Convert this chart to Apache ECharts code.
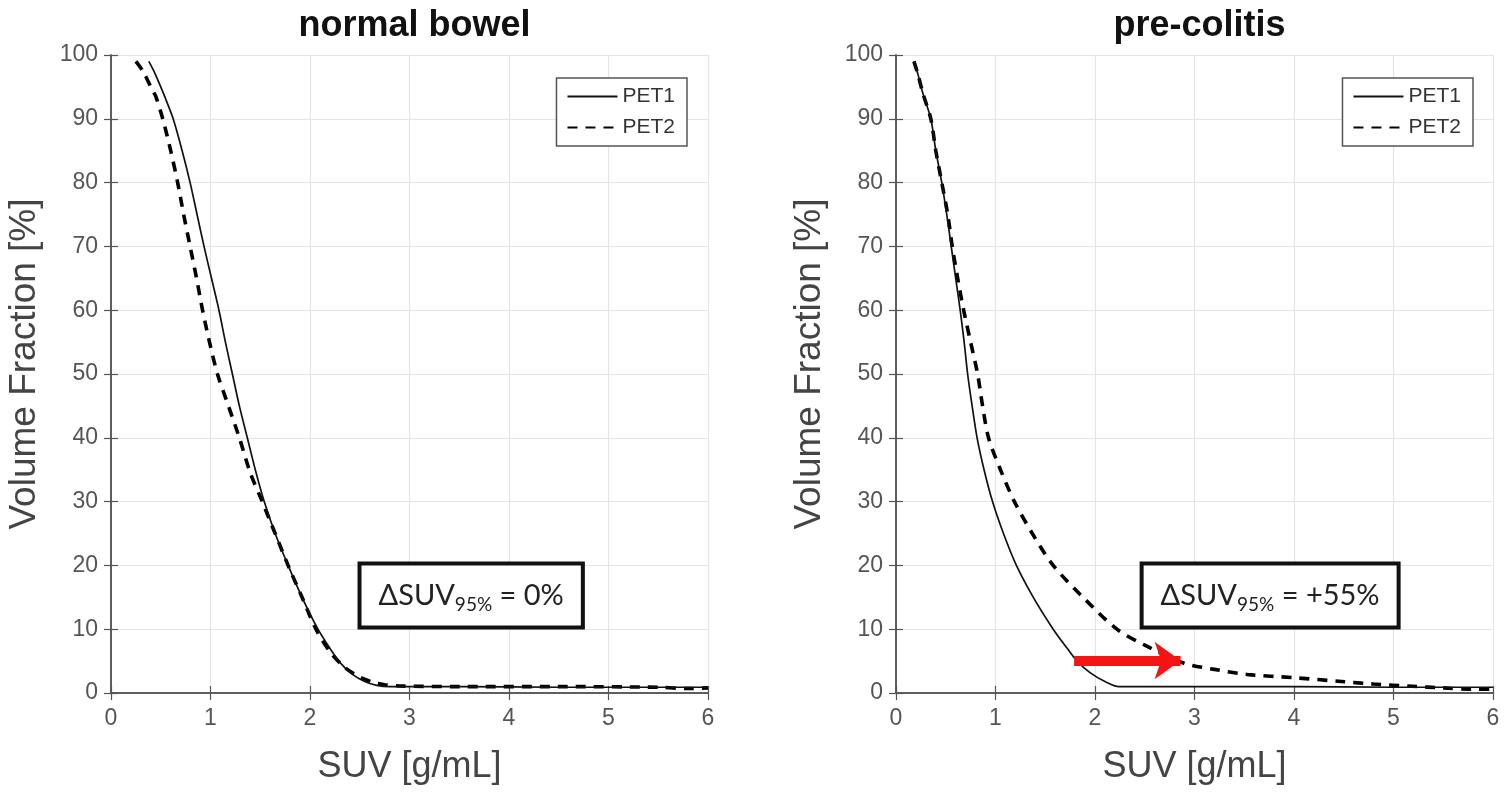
<!DOCTYPE html>
<html>
<head>
<meta charset="utf-8">
<script src="https://cdn.jsdelivr.net/npm/echarts@6/dist/echarts.min.js"></script>
<style>
html,body{margin:0;padding:0;background:#fff;}
#chart{width:1511px;height:797px;}
</style>
</head>
<body>
<div id="chart"></div>
<script>
// ---- data (SUV [g/mL], Volume Fraction [%]) ----
const xTicks = [0, 1, 2, 3, 4, 5, 6];
const yTicks = [0, 10, 20, 30, 40, 50, 60, 70, 80, 90, 100];
const panelTitles = ['normal bowel', 'pre-colitis'];
const seriesNames = ['PET1', 'PET2'];

const normalPET1 = [[0.38,99],[0.43,97.5],[0.50,95],[0.565,92.5],[0.625,90],[0.715,85],[0.795,80],[0.865,75],[0.935,70],[1.01,65],[1.085,60],[1.15,55],[1.22,50],[1.29,45],[1.37,40],[1.45,35],[1.54,30],[1.65,25],[1.78,20],[1.92,15],[2.08,10],[2.2,7],[2.3,4.8],[2.42,3],[2.55,1.8],[2.67,1.2],[2.8,1.0],[3.5,1.0],[4.5,0.9],[5.5,0.9],[6,0.9]];
const normalPET2 = [[0.25,99],[0.32,97.5],[0.40,95],[0.45,93.5],[0.52,90],[0.60,85],[0.67,80],[0.73,75],[0.795,70],[0.86,65],[0.92,60],[0.99,55],[1.07,50],[1.18,45],[1.29,40],[1.40,34.5],[1.52,30],[1.65,25],[1.78,20],[1.92,15],[2.06,10],[2.2,6.5],[2.35,4],[2.5,2.5],[2.65,1.6],[2.75,1.3],[2.9,1.1],[3.5,1.0],[4.5,1.0],[5.5,0.9],[5.8,0.7],[6,0.8]];
const colitisPET1 = [[0.18,99],[0.22,97],[0.27,94],[0.35,90],[0.40,85],[0.46,80],[0.51,75],[0.555,70],[0.60,65],[0.645,60],[0.685,55],[0.72,50],[0.765,45],[0.815,40],[0.885,35],[0.97,30],[1.08,25],[1.21,20],[1.38,15],[1.58,10],[1.72,7],[1.82,5],[1.95,3.2],[2.1,1.8],[2.24,1.0],[3,1.0],[4,1.0],[5,0.9],[6,0.9]];
const colitisPET2 = [[0.18,99],[0.22,97],[0.27,94],[0.35,90],[0.40,85],[0.46,80],[0.52,75],[0.565,70],[0.62,65],[0.68,60],[0.75,55],[0.82,50],[0.87,45],[0.93,40],[1.05,35],[1.19,30],[1.37,25],[1.58,20],[1.88,15],[2.22,10],[2.5,7.5],[2.89,4.7],[3.2,3.7],[3.53,2.9],[4.0,2.4],[4.48,1.8],[4.8,1.4],[5.19,1.05],[5.5,0.8],[5.79,0.6],[6,0.6]];

const annotNormal = {pos: [3.62, 15.3], value: '0%'};
const annotColitis = {pos: [3.76, 15.3], value: '+55%'};
const arrowFrom = [1.79, 5.1];
const arrowTo = [2.86, 5.1];

// ---- styling ----
const frameColor = '#555';
const tickColor = '#555';
const gridColor = '#e4e4e4';
const FONT = '"Liberation Sans", Arial, sans-serif';

const chart = echarts.init(document.getElementById('chart'), null, {renderer: 'canvas'});

const gridsPx = [
  {left: 111, top: 55, width: 597, height: 638},
  {left: 896, top: 55, width: 597, height: 638}
];

function xAxisPair(gi) {
  const base = {
    type: 'value', gridIndex: gi, min: xTicks[0], max: xTicks[xTicks.length - 1], interval: 1,
    axisLine: {show: true, lineStyle: {color: frameColor, width: 1.5}},
    axisTick: {show: true, inside: true, length: 7, lineStyle: {color: frameColor, width: 1.2}},
  };
  return [
    Object.assign({}, base, {
      position: 'bottom',
      axisLabel: {show: true, color: tickColor, fontSize: 23, fontFamily: FONT, margin: 14},
      splitLine: {show: true, lineStyle: {color: gridColor, width: 1.2}},
      name: 'SUV [g/mL]', nameLocation: 'middle', nameGap: 56,
      nameTextStyle: {color: '#444', fontSize: 36, fontFamily: FONT}
    }),
    Object.assign({}, base, {
      position: 'top', axisLabel: {show: false}, splitLine: {show: false}
    })
  ];
}
function yAxisPair(gi) {
  const base = {
    type: 'value', gridIndex: gi, min: yTicks[0], max: yTicks[yTicks.length - 1], interval: 10,
    axisLine: {show: true, lineStyle: {color: frameColor, width: 1.5}},
    axisTick: {show: true, inside: true, length: 7, lineStyle: {color: frameColor, width: 1.2}},
  };
  return [
    Object.assign({}, base, {
      position: 'left',
      axisLabel: {show: true, color: tickColor, fontSize: 23, fontFamily: FONT, margin: 13},
      splitLine: {show: true, lineStyle: {color: gridColor, width: 1.2}},
      name: 'Volume Fraction [%]', nameLocation: 'middle', nameGap: 68,
      nameTextStyle: {color: '#444', fontSize: 37, fontFamily: FONT, padding: [0, 0, 0, 20]}
    }),
    Object.assign({}, base, {
      position: 'right', axisLabel: {show: false}, splitLine: {show: false}
    })
  ];
}

function annotation(a) {
  return {
    silent: true,
    symbol: 'rect', symbolSize: 1,
    itemStyle: {color: 'rgba(0,0,0,0)'},
    data: [{
      coord: a.pos,
      label: {
        show: true, position: 'inside',
        formatter: '{a|ΔSUV}{b|95%}{a| = ' + a.value + '}',
        backgroundColor: '#fff', borderColor: '#111', borderWidth: 4,
        padding: [11, 17, 11, 17],
        rich: {
          a: {fontSize: 29, lineHeight: 38, fontFamily: 'Lato, "Open Sans", sans-serif', color: '#222'},
          b: {fontSize: 19, lineHeight: 19, verticalAlign: 'bottom', fontFamily: 'Lato, "Open Sans", sans-serif', color: '#222'}
        }
      }
    }]
  };
}

function lineSeries(name, data, gi, dashed, extra) {
  return Object.assign({
    type: 'line', name: name, data: data,
    xAxisIndex: gi * 2, yAxisIndex: gi * 2,
    symbol: 'none', showSymbol: false, smooth: 0.3,
    lineStyle: dashed ? {color: '#000', width: 3.6, type: [10, 8]} : {color: '#111', width: 1.7, type: 'solid'},
    itemStyle: {color: '#000'},
    z: dashed ? 3 : 4
  }, extra || {});
}

const xAxes = xAxisPair(0).concat(xAxisPair(1));
const yAxes = yAxisPair(0).concat(yAxisPair(1));

const option = {
  backgroundColor: '#fff',
  animation: false,
  title: panelTitles.map((t, i) => ({
    text: t,
    left: gridsPx[i].left + gridsPx[i].width / 2,
    textAlign: 'center',
    top: 3,
    textStyle: {fontSize: 36, fontWeight: 'bold', color: '#111', fontFamily: FONT}
  })),
  legend: [0, 1].map(i => ({
    data: seriesNames,
    orient: 'vertical',
    right: i === 0 ? 1511 - 687 : 1511 - 1473,
    top: 78,
    itemWidth: 50, itemHeight: 16, itemGap: 10,
    padding: [8, 12, 8, 10],
    borderColor: '#555', borderWidth: 1.5, backgroundColor: '#fff',
    textStyle: {fontSize: 21, color: '#333', fontFamily: FONT},
    itemStyle: {color: 'rgba(0,0,0,0)', borderColor: 'rgba(0,0,0,0)', borderWidth: 0},
    selectedMode: false
  })),
  grid: gridsPx,
  xAxis: xAxes,
  yAxis: yAxes,
  series: [
    lineSeries(seriesNames[0], normalPET1, 0, false),
    lineSeries(seriesNames[1], normalPET2, 0, true, {markPoint: annotation(annotNormal)}),
    lineSeries(seriesNames[0], colitisPET1, 1, false, {
      markLine: {
        silent: true,
        symbol: ['none', 'arrow'],
        symbolSize: [28, 26],
        label: {show: false},
        lineStyle: {color: '#f41414', width: 10, type: 'solid'},
        data: [[{coord: arrowFrom}, {coord: arrowTo}]]
      }
    }),
    lineSeries(seriesNames[1], colitisPET2, 1, true, {markPoint: annotation(annotColitis)})
  ]
};
chart.setOption(option);
</script>
</body>
</html>
